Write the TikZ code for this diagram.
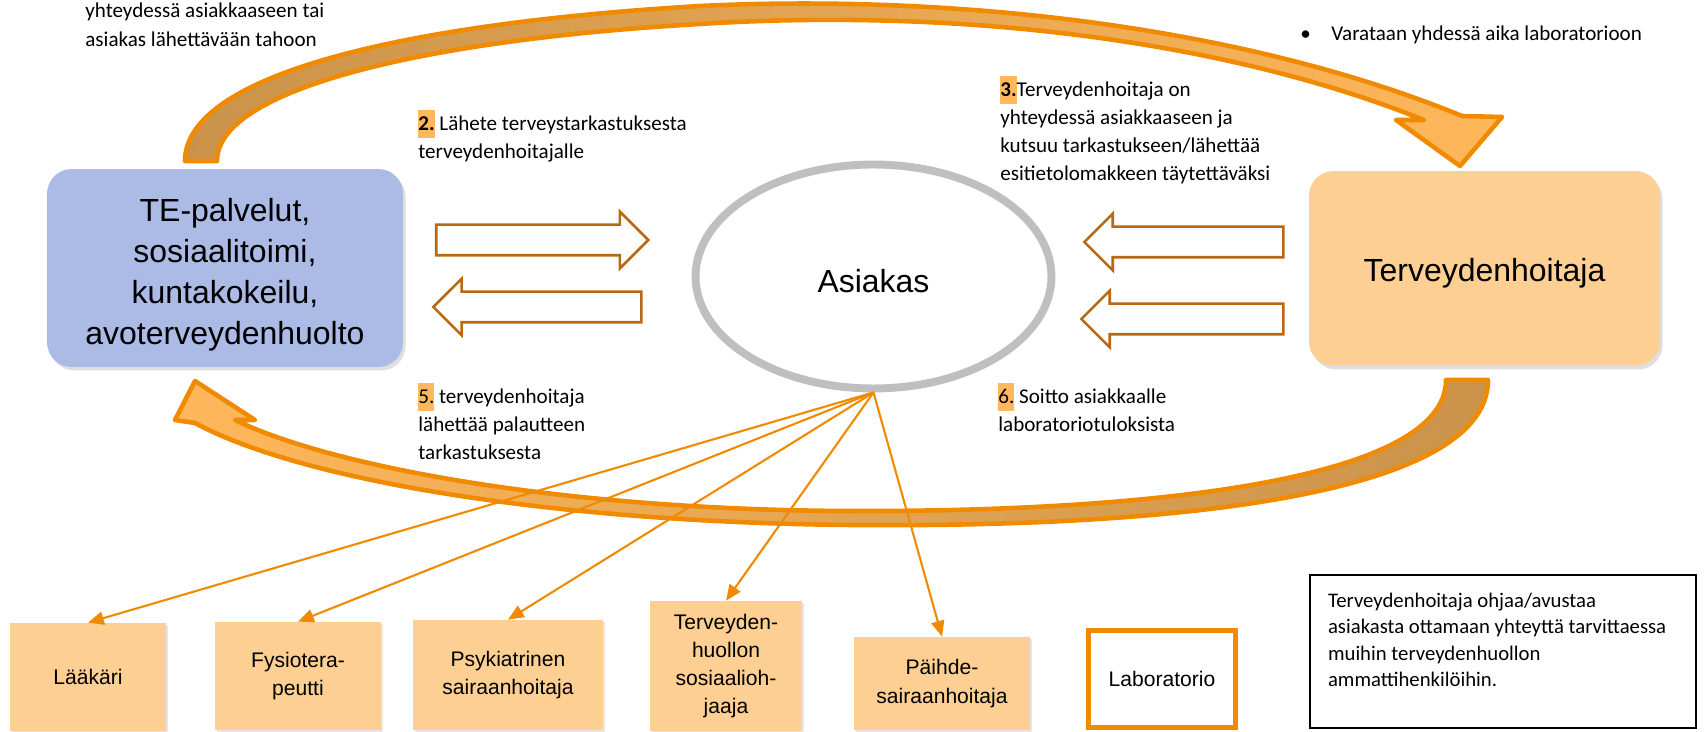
\documentclass[tikz,border=0pt]{standalone}
\usepackage{fontspec}
\setmainfont{Liberation Sans}
\newfontfamily\calibrifont{Carlito}
\usetikzlibrary{shapes.geometric, shapes.arrows, arrows.meta, shadows}

\definecolor{boxblue}{RGB}{172,186,230}
\definecolor{boxpeach}{RGB}{253,207,147}
\definecolor{lineorange}{RGB}{240,138,0}
\definecolor{arrowbrown}{RGB}{184,104,16}
\definecolor{tailbrown}{RGB}{202,147,75}
\definecolor{headorange}{RGB}{255,183,90}
\definecolor{hlorange}{RGB}{255,184,94}
\definecolor{ringgray}{RGB}{191,191,191}

\newcommand{\hlnum}[1]{{\setlength{\fboxsep}{0pt}\colorbox{hlorange}{\strut#1}}}

\tikzset{
  bigbox/.style={rounded corners=14pt, align=center, font=\fontsize{18.2}{23.3}\selectfont,
    drop shadow={shadow xshift=1.5pt, shadow yshift=-2pt, opacity=0.25}},
  smallbox/.style={fill=boxpeach, align=center, inner sep=0pt, font=\fontsize{12}{16}\selectfont,
    drop shadow={shadow xshift=1pt, shadow yshift=-1pt, opacity=0.2}}
}
\tikzset{
  hollowarrow/.style={single arrow, draw=arrowbrown, line width=1.5pt, single arrow tip angle=90,
    single arrow head extend=0.26cm, inner ysep=0.28cm, inner xsep=0pt},
  steplabel/.style={anchor=north west, inner sep=0pt, align=left, font=\calibrifont\fontsize{12}{16}\selectfont},
  bandarrow/.style={draw=lineorange, line width=2.6pt, line join=round},
  reachline/.style={draw=lineorange, line width=1.2pt, ->}
}

\begin{document}
\begin{tikzpicture}[x=0.02cm, y=-0.02cm, >={Triangle[length=9pt,width=7.5pt]}]
  \useasboundingbox (0,0) rectangle (1704,732);

  \path[bandarrow, left color=tailbrown, right color=headorange]
    (185,161) .. controls (185,80) and (380,25) .. (700,6)
    .. controls (950,-6) and (1240,25) .. (1462,116)
    -- (1502,117) -- (1460,166) -- (1396,120) -- (1424,120)
    .. controls (1220,38) and (950,8) .. (700,24)
    .. controls (420,40) and (217,90) .. (217,161) -- cycle;
  \path[bandarrow, left color=headorange, right color=tailbrown]
    (1488,380) .. controls (1488,490) and (1200,528) .. (850,525)
    .. controls (550,522) and (300,480) .. (195,423)
    -- (175,420) -- (195,381) -- (255,420) -- (235,420)
    .. controls (330,466) and (560,510) .. (850,511)
    .. controls (1150,512) and (1446,480) .. (1446,380) -- cycle;

  \node[bigbox, fill=boxblue, minimum width=7.12cm, minimum height=3.96cm] (te) at (225,268) {\rule{0pt}{20.7pt}TE-palvelut,\\sosiaalitoimi,\\kuntakokeilu,\\avoterveydenhuolto};
  \node[bigbox, fill=boxpeach, minimum width=7.02cm, minimum height=3.9cm] (th) at (1484.5,268.5) {\rule{0pt}{18.3pt}Terveydenhoitaja};
  \node[ellipse, draw=ringgray, line width=4.5pt, fill=white, minimum width=7.12cm, minimum height=4.48cm, font=\fontsize{18.2}{22}\selectfont] (asiakas) at (873.5,276.5) {\rule{0pt}{18.3pt}Asiakas};

  \node[hollowarrow, minimum height=4.24cm] (a2) at (534.5,240) {};
  \node[hollowarrow, shape border rotate=180, minimum height=4.16cm] (a5) at (545,307) {};
  \node[hollowarrow, shape border rotate=180, minimum height=3.98cm] (a3) at (1191.5,242) {};
  \node[hollowarrow, shape border rotate=180, minimum height=4.04cm] (a6) at (1190,319) {};

  \node[steplabel] (intro) at (85,3) {yhteydessä asiakkaaseen tai\\asiakas lähettävään tahoon};
  \node[steplabel] (l2) at (418,110) {\hlnum{\textbf{2.}} Lähete terveystarkastuksesta\\terveydenhoitajalle};
  \node[steplabel] (l3) at (1000,76) {\hlnum{\textbf{3.}}Terveydenhoitaja on\\yhteydessä asiakkaaseen ja\\kutsuu tarkastukseen/lähettää\\esitietolomakkeen täytettäväksi};
  \node[steplabel] (lab1) at (1300,26) {\makebox[0.62cm][l]{\textbullet}Varataan yhdessä aika laboratorioon};
  \node[steplabel] (l5) at (418,383) {\hlnum{5.} terveydenhoitaja\\lähettää palautteen\\tarkastuksesta};
  \node[steplabel] (l6) at (998,383) {\hlnum{6.} Soitto asiakkaalle\\laboratoriotuloksista};

  \node[smallbox, minimum width=3.12cm, minimum height=2.16cm] (laak) at (88,677) {Lääkäri};
  \node[smallbox, minimum width=3.32cm, minimum height=2.16cm] (fysio) at (298,676) {Fysiotera-\\peutti};
  \node[smallbox, minimum width=3.8cm, minimum height=2.2cm] (psyk) at (508,675) {Psykiatrinen\\sairaanhoitaja};
  \node[smallbox, minimum width=3.04cm, minimum height=2.6cm] (sosi) at (726,666) {Terveyden-\\huollon\\sosiaalioh-\\jaaja};
  \node[smallbox, minimum width=3.52cm, minimum height=1.86cm] (paih) at (942,683.5) {Päihde-\\sairaanhoitaja};
  \node[draw=lineorange, line width=2.8pt, fill=white, minimum width=2.94cm, minimum height=1.94cm, font=\fontsize{12}{16}\selectfont] (lab) at (1162,679) {Laboratorio};
  \node[draw, line width=0.8pt, minimum width=7.72cm, inner xsep=0.36cm, inner ysep=0.36cm, font=\calibrifont\fontsize{11.8}{15}\selectfont] (note) at (1503,651.5) {\parbox[c][2.34cm][t]{7.0cm}{\raggedright Terveydenhoitaja ohjaa/avustaa\\asiakasta ottamaan yhteyttä tarvittaessa\\muihin terveydenhuollon\\ammattihenkilöihin.}};

  \foreach \t in {laak,fysio,psyk,sosi,paih}
    \draw[reachline] (asiakas.south) -- (\t.north);
\end{tikzpicture}
\end{document}
